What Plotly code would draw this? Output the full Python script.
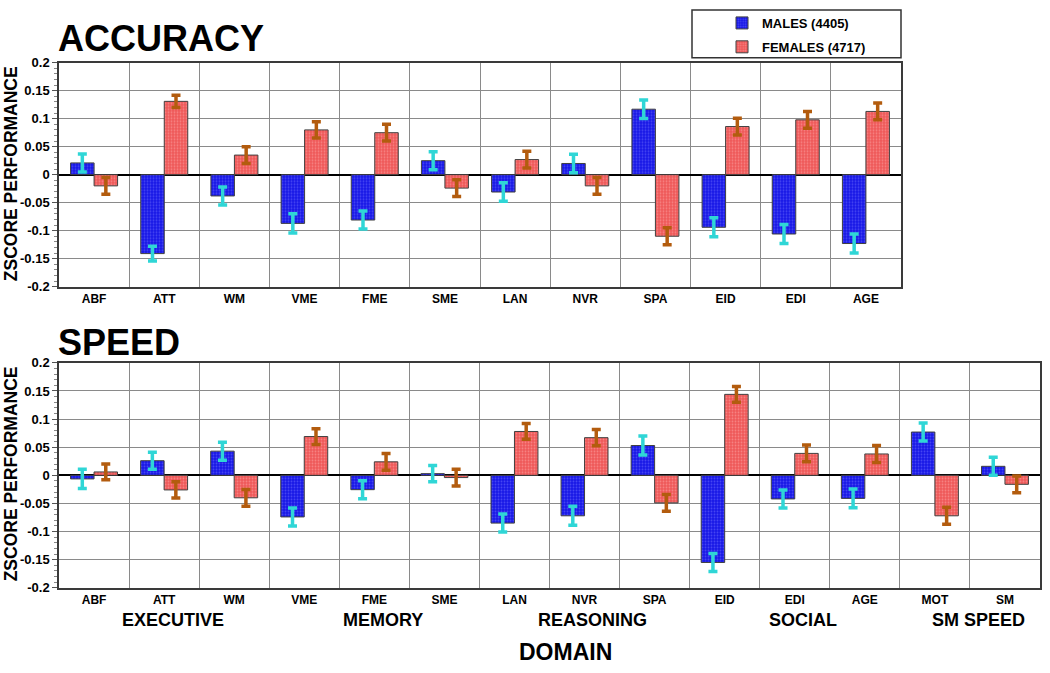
import plotly.graph_objects as go

# ---------------- data ----------------
acc_tests = ["ABF", "ATT", "WM", "VME", "FME", "SME", "LAN", "NVR", "SPA", "EID", "EDI", "AGE"]
acc_male = [0.021, -0.141, -0.038, -0.087, -0.081, 0.025, -0.031, 0.020, 0.117, -0.094, -0.106, -0.123]
acc_male_err = [0.016, 0.013, 0.016, 0.017, 0.016, 0.016, 0.0165, 0.0165, 0.0165, 0.017, 0.017, 0.017]
acc_female = [-0.020, 0.131, 0.035, 0.080, 0.075, -0.024, 0.027, -0.020, -0.110, 0.086, 0.098, 0.113]
acc_female_err = [0.015, 0.011, 0.015, 0.0145, 0.015, 0.015, 0.015, 0.015, 0.015, 0.015, 0.015, 0.015]

spd_tests = ["ABF", "ATT", "WM", "VME", "FME", "SME", "LAN", "NVR", "SPA", "EID", "EDI", "AGE", "MOT", "SM"]
spd_male = [-0.0064, 0.026, 0.043, -0.074, -0.0255, 0.003, -0.085, -0.072, 0.053, -0.155, -0.042, -0.041, 0.077, 0.016]
spd_male_err = [0.017, 0.015, 0.016, 0.016, 0.016, 0.0145, 0.016, 0.017, 0.017, 0.016, 0.016, 0.0165, 0.016, 0.016]
spd_female = [0.006, -0.026, -0.040, 0.069, 0.024, -0.004, 0.078, 0.067, -0.049, 0.144, 0.039, 0.038, -0.072, -0.016]
spd_female_err = [0.014, 0.0145, 0.015, 0.014, 0.015, 0.015, 0.014, 0.0145, 0.015, 0.014, 0.015, 0.015, 0.015, 0.015]

group_names = ["EXECUTIVE", "MEMORY", "REASONING", "SOCIAL", "SM SPEED"]
group_members = [["ABF", "ATT", "WM"], ["VME", "FME", "SME"], ["LAN", "NVR", "SPA"],
                 ["EID", "EDI", "AGE"], ["MOT", "SM"]]

y_tick_vals = [0.2, 0.15, 0.1, 0.05, 0, -0.05, -0.1, -0.15, -0.2]
y_tick_text = ["0.2", "0.15", "0.1", "0.05", "0", "-0.05", "-0.1", "-0.15", "-0.2"]

male_name = "MALES (4405)"
female_name = "FEMALES (4717)"

# ---------------- styling ----------------
W, H = 1050, 673
FONT = "Liberation Sans, Arial, Helvetica, sans-serif"


def px(x):
    return x / W


def py(y):
    return 1 - y / H


male_color = "#1717e6"
male_dots = "#7a7aff"
female_color = "#ee5656"
female_dots = "#ffb4b4"
male_err_color = "#2fd6d6"
female_err_color = "#b35c0e"
bar_line = "#404040"

fig = go.Figure()


def add_bars(cats, vals, errs, name, color, dots, errc, xa, ya, show):
    fig.add_trace(go.Bar(
        x=cats, y=vals, name=name, xaxis=xa, yaxis=ya,
        showlegend=show, legendgroup=name,
        marker=dict(color=color, line=dict(color=bar_line, width=1),
                    pattern=dict(shape=".", fgcolor=dots, bgcolor=color, size=3, solidity=0.35)),
        error_y=dict(type="data", array=errs, color=errc, thickness=3.5, width=4.5, visible=True),
    ))


add_bars(acc_tests, acc_male, acc_male_err, male_name, male_color, male_dots, male_err_color, "x", "y", True)
add_bars(acc_tests, acc_female, acc_female_err, female_name, female_color, female_dots, female_err_color, "x", "y", True)
add_bars(spd_tests, spd_male, spd_male_err, male_name, male_color, male_dots, male_err_color, "x2", "y2", False)
add_bars(spd_tests, spd_female, spd_female_err, female_name, female_color, female_dots, female_err_color, "x2", "y2", False)

xtickfont = dict(family=FONT, size=12, color="black", weight="bold")
ytickfont = dict(family=FONT, size=13, color="black", weight="bold")


def xaxis_cfg(domain, anchor, n):
    return dict(domain=domain, anchor=anchor, type="category", tickson="boundaries",
                showgrid=True, gridcolor="#8a8a8a", gridwidth=1, ticks="", ticklen=0,
                showline=True, linecolor="#3a3a3a", linewidth=1.5, mirror=True,
                tickfont=xtickfont, range=[-0.5, n - 0.5], fixedrange=True)


def yaxis_cfg(domain, anchor):
    return dict(domain=domain, anchor=anchor, range=[-0.2, 0.2],
                tickmode="array", tickvals=y_tick_vals, ticktext=y_tick_text,
                ticks="outside", ticklen=5, tickcolor="#555", tickwidth=1,
                minor=dict(dtick=0.01, tick0=0, ticks="outside", ticklen=3, tickcolor="#888", showgrid=False),
                showgrid=True, gridcolor="#8a8a8a", gridwidth=1,
                zeroline=True, zerolinecolor="black", zerolinewidth=1.5,
                showline=True, linecolor="#3a3a3a", linewidth=1.5, mirror=True,
                tickfont=ytickfont, fixedrange=True)


annotations = [
    dict(text="ACCURACY", x=px(56), y=py(32), xref="paper", yref="paper", xanchor="left", yanchor="middle",
         showarrow=False, font=dict(family=FONT, size=36, color="black", weight="bold")),
    dict(text="SPEED", x=px(56), y=py(343), xref="paper", yref="paper", xanchor="left", yanchor="middle",
         showarrow=False, font=dict(family=FONT, size=36, color="black", weight="bold")),
    dict(text="ZSCORE PERFORMANCE", x=px(11), y=py(171), xref="paper", yref="paper", textangle=-90,
         xanchor="center", yanchor="middle", showarrow=False,
         font=dict(family=FONT, size=17.5, color="black", weight="bold")),
    dict(text="ZSCORE PERFORMANCE", x=px(11), y=py(478), xref="paper", yref="paper", textangle=-90,
         xanchor="center", yanchor="middle", showarrow=False,
         font=dict(family=FONT, size=17.5, color="black", weight="bold")),
    dict(text="DOMAIN", x=px(565), y=py(660), xref="paper", yref="paper", xanchor="center", yanchor="middle",
         showarrow=False, font=dict(family=FONT, size=23, color="black", weight="bold")),
]

for gname, members in zip(group_names, group_members):
    idx = [spd_tests.index(m) for m in members]
    center = (min(idx) + max(idx)) / 2
    annotations.append(dict(text=gname, x=center + 0.12, y=py(627), xref="x2", yref="paper",
                            xanchor="center", yanchor="middle", showarrow=False,
                            font=dict(family=FONT, size=18, color="black", weight="bold")))

fig.update_layout(
    width=W, height=H,
    margin=dict(l=0, r=0, t=0, b=0),
    paper_bgcolor="white", plot_bgcolor="white",
    barmode="group", bargap=0.33, bargroupgap=0,
    xaxis=xaxis_cfg([px(59), px(901)], "y", len(acc_tests)),
    yaxis=yaxis_cfg([py(286), py(57)], "x"),
    xaxis2=xaxis_cfg([px(59), px(1040)], "y2", len(spd_tests)),
    yaxis2=yaxis_cfg([py(594), py(364)], "x2"),
    legend=dict(x=px(722), y=py(1), xanchor="left", yanchor="top",
                bgcolor="rgba(0,0,0,0)", borderwidth=0, tracegroupgap=4,
                font=dict(family=FONT, size=13, color="black", weight="bold")),
    annotations=annotations,
    shapes=[dict(type="rect", xref="paper", yref="paper", x0=px(692), x1=px(901), y0=py(52), y1=py(3),
                 line=dict(color="#333", width=1.5), fillcolor="rgba(0,0,0,0)")],
    font=dict(family=FONT),
)

fig.write_html("out.html", config={"displayModeBar": False},
               post_script="document.body.style.margin='0';")
